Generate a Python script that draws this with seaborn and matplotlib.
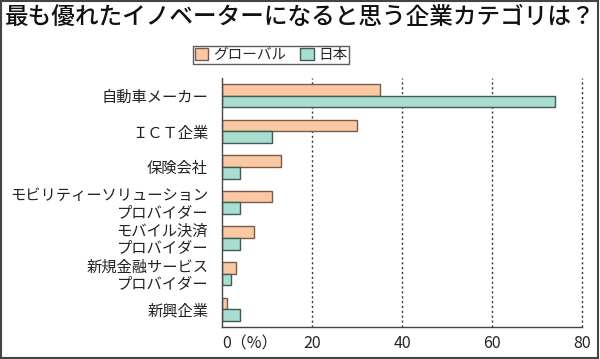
#importing the libraries needed
import numpy as np
import pandas as pd
import seaborn as sns
import matplotlib.pyplot as plt
from matplotlib.patches import Rectangle

# categories and values (percent)
categories = ['自動車メーカー', 'ＩＣＴ企業', '保険会社',
              'モビリティーソリューション\nプロバイダー', 'モバイル決済\nプロバイダー',
              '新規金融サービス\nプロバイダー', '新興企業']
global_values = [35, 30, 13, 11, 7, 3, 1]
japan_values = [74, 11, 4, 4, 4, 2, 4]
series_names = ['グローバル', '日本']
x_ticks = [0, 20, 40, 60, 80]
x_tick_labels = ['0（%）', '20', '40', '60', '80']

# build a long table for seaborn
df = pd.DataFrame({
    'category': categories * 2,
    'value': global_values + japan_values,
    'series': [series_names[0]] * len(categories) + [series_names[1]] * len(categories),
})

sns.set_style('white')
plt.rcParams['font.family'] = ['Noto Sans CJK JP', 'DejaVu Sans']

fig = plt.figure(figsize=(6, 3.59), dpi=100)
ax = fig.add_axes([0.37, 0.089, 0.60, 0.694])

# grid lines first so the bars sit on top
for t in x_ticks[1:]:
    ax.axvline(t, color='#333333', linestyle=(0, (1.5, 2)), linewidth=1, zorder=0, clip_on=False)

palette = {series_names[0]: '#FBC8A4', series_names[1]: '#A8DDD0'}
sns.barplot(data=df, y='category', x='value', hue='series', palette=palette,
            width=0.66, edgecolor='#555555', linewidth=1, saturation=1,
            orient='h', ax=ax, zorder=2)

# edge colours per series
for bar_container, ec in zip(ax.containers, ['#7a5a4a', '#3d5c56']):
    for bar in bar_container:
        bar.set_edgecolor(ec)

ax.set_xlim(0, 80)
ax.set_ylim(6.5, -0.5)
ax.set_xlabel('')
ax.set_ylabel('')
ax.set_xticks(x_ticks)
ax.set_xticklabels(x_tick_labels, fontsize=11.5, color='#222222')
ax.get_xticklabels()[0].set_horizontalalignment('left')
ax.get_xticklabels()[0].set_x(-0.6)
ax.tick_params(axis='y', labelsize=11, length=0, pad=10, colors='#222222')
ax.tick_params(axis='x', length=0, pad=6)
for lbl in ax.get_yticklabels():
    lbl.set_linespacing(0.95)

# only left and bottom axis lines
for side in ['top', 'right']:
    ax.spines[side].set_visible(False)
for side in ['left', 'bottom']:
    ax.spines[side].set_color('#444444')
    ax.spines[side].set_linewidth(1)

# legend at the top centre
leg = ax.legend(loc='center', bbox_to_anchor=(0.452, 1 - 55 / 359), bbox_transform=fig.transFigure,
                ncol=2, frameon=True, fontsize=10.5, handlelength=0.9, handleheight=0.9,
                handletextpad=0.3, columnspacing=1.0, borderpad=0.15, fancybox=False)
leg.get_frame().set_edgecolor('#333333')
leg.get_frame().set_linewidth(1)
for patch, ec in zip(leg.get_patches(), ['#7a5a4a', '#3d5c56']):
    patch.set_edgecolor(ec)

# title
fig.text(0.008, 1 - 17 / 359, '最も優れたイノベーターになると思う企業カテゴリは？',
         fontsize=17, ha='left', va='center', color='#111111', fontweight='medium')

# frame round the whole picture
fig.patches.append(Rectangle((0.002, 0.004), 0.994, 0.992, transform=fig.transFigure,
                             fill=False, edgecolor='#444444', linewidth=1.5))

plt.savefig('out.png', dpi=100)
